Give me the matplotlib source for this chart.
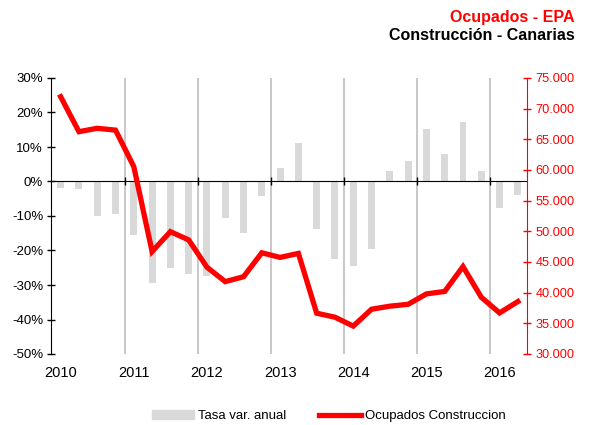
import numpy as np
import matplotlib
matplotlib.use("Agg")
import matplotlib.pyplot as plt
import matplotlib.transforms as mtransforms
from matplotlib.ticker import FuncFormatter
from matplotlib.patches import Patch
from matplotlib.lines import Line2D

plt.rcParams['font.family'] = ['Liberation Sans', 'DejaVu Sans']

quarters = [f"{y}T{q}" for y in range(2010, 2017) for q in range(1, 5)][:26]
year_labels = ["2010", "2011", "2012", "2013", "2014", "2015", "2016"]
tasa = [-2.0, -2.3, -9.9, -9.5, -15.5, -29.3, -25.2, -26.8, -27.3, -10.7, -14.8, -4.2,
        3.8, 11.1, -13.8, -22.6, -24.4, -19.7, 3.0, 5.9, 15.1, 8.0, 17.2, 3.0, -7.7, -3.9]
ocupados = [71950, 66250, 66800, 66500, 60550, 46700, 49950, 48600, 44150, 41800, 42600, 46500,
            45750, 46400, 36650, 36000, 34550, 37300, 37800, 38100, 39800, 40200, 44250, 39250,
            36700, 38550]

fig = plt.figure(figsize=(6.09, 4.25), dpi=100)
ax = fig.add_axes([51.5/609, 1-354/425, (527-51.5)/609, (354-78)/425])
x = np.arange(len(quarters))

ax.bar(x, tasa, width=0.38, color='#D9D9D9', zorder=2)
ax.set_xlim(-0.5, len(quarters)-0.5)
ax.set_ylim(-50, 30)
ax.set_yticks(np.arange(-50, 31, 10))
ax.yaxis.set_major_formatter(FuncFormatter(lambda v, p: f"{int(v)}%"))
ax.tick_params(axis='y', direction='inout', length=6, width=1, labelsize=9.5, pad=3, colors='black')

grid_pos = [4*i - 0.5 for i in range(1, 7)]
for g in grid_pos:
    ax.axvline(g, color='#BFBFBF', lw=1.2, zorder=1)

ax.spines['bottom'].set_position(('data', 0))
ax.spines['bottom'].set_color('black')
ax.spines['bottom'].set_zorder(3)
ax.set_xticks(grid_pos)
ax.set_xticklabels([])
ax.tick_params(axis='x', direction='inout', length=6, width=1, colors='black')
ax.spines['top'].set_visible(False)
ax.spines['right'].set_visible(False)

trans = mtransforms.blended_transform_factory(ax.transData, ax.transAxes)
for i, lab in enumerate(year_labels):
    ax.text(4*i, -0.069, lab, transform=trans, ha='center', va='center', fontsize=10.5)

ax2 = ax.twinx()
ax2.plot(x, ocupados, color='#FF0000', lw=3.8, solid_joinstyle='miter', zorder=5)
ax2.set_ylim(30000, 75000)
ax2.set_yticks(np.arange(30000, 75001, 5000))
ax2.yaxis.set_major_formatter(FuncFormatter(lambda v, p: f"{int(v):,}".replace(",", ".")))
ax2.tick_params(axis='y', direction='inout', length=6, width=1, labelsize=9.2, pad=3, colors='#FF0000')
ax2.spines['right'].set_color('#FF0000')
for s in ['top', 'bottom', 'left']:
    ax2.spines[s].set_visible(False)

fig.text(575/609, 1-17.5/425, "Ocupados - EPA", color='#FF0000', fontsize=11.5, fontweight='bold',
         ha='right', va='center')
fig.text(575/609, 1-36/425, "Construcción - Canarias", color='black', fontsize=11.5, fontweight='bold',
         ha='right', va='center')

handles = [Patch(color='#D9D9D9', label='Tasa var. anual'),
           Line2D([0], [0], color='#FF0000', lw=3.8, label='Ocupados Construccion')]
fig.legend(handles=handles, loc='center', bbox_to_anchor=(329/609, 1-416/425), ncol=2,
           frameon=False, fontsize=9.5, handlelength=3.2, handleheight=0.7, columnspacing=2.5,
           handletextpad=0.3)

fig.savefig("out.png", dpi=100)
